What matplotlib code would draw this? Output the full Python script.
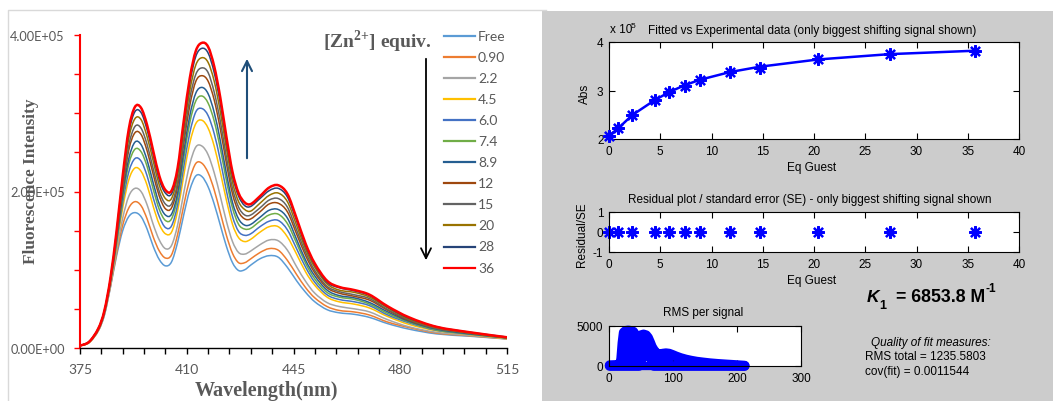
import numpy as np
import matplotlib
matplotlib.use('Agg')
import matplotlib.pyplot as plt
from matplotlib.lines import Line2D
from matplotlib.patches import Rectangle, PathPatch
from matplotlib.path import Path
from matplotlib.ticker import MultipleLocator, FixedLocator, FuncFormatter

W, H = 1053, 402

# ---------------- fluorescence titration spectra (units of 1e5) ----------------
wavelength = [375, 378, 381, 383, 385, 387, 389, 391, 393, 395, 397, 399, 401, 403, 405,
              407, 409, 411, 413, 415, 417, 419, 421, 423, 425, 427, 429, 431, 434, 437,
              440, 443, 446, 449, 452, 456, 460, 465, 470, 476, 483, 492, 503, 515]

s_free = [.03, .07, .22, .42, .78, 1.18, 1.50, 1.68, 1.73, 1.68,
          1.52, 1.30, 1.13, 1.05, 1.10, 1.35, 1.70, 2.02, 2.20, 2.19,
          2.06, 1.84, 1.57, 1.30, 1.09, 0.99, 1.00, 1.06, 1.14, 1.18,
          1.16, 1.03, 0.86, 0.71, 0.59, 0.49, 0.45, 0.43, 0.39, 0.31,
          0.24, 0.18, 0.15, 0.115]
s_090 = [.03, .07, .22, .43, .79, 1.21, 1.57, 1.79, 1.87, 1.82,
         1.65, 1.42, 1.24, 1.15, 1.19, 1.45, 1.82, 2.16, 2.36, 2.36,
         2.24, 2.02, 1.73, 1.44, 1.21, 1.09, 1.09, 1.14, 1.22, 1.27,
         1.25, 1.12, 0.94, 0.77, 0.64, 0.53, 0.48, 0.46, 0.42, 0.33,
         0.26, 0.19, 0.155, 0.117]
s_22 = [.03, .07, .23, .43, .81, 1.25, 1.66, 1.94, 2.04, 2.00,
        1.83, 1.58, 1.38, 1.27, 1.31, 1.57, 1.98, 2.35, 2.57, 2.58,
        2.47, 2.24, 1.94, 1.62, 1.36, 1.22, 1.20, 1.24, 1.32, 1.38,
        1.37, 1.25, 1.04, 0.85, 0.70, 0.58, 0.53, 0.50, 0.46, 0.36,
        0.27, 0.20, 0.16, 0.12]
s_45 = [.03, .07, .23, .45, .83, 1.31, 1.79, 2.15, 2.30, 2.26,
        2.08, 1.81, 1.58, 1.46, 1.48, 1.75, 2.20, 2.62, 2.87, 2.91,
        2.81, 2.58, 2.25, 1.89, 1.58, 1.41, 1.36, 1.39, 1.48, 1.55,
        1.55, 1.42, 1.20, 0.97, 0.80, 0.65, 0.59, 0.56, 0.51, 0.40,
        0.30, 0.22, 0.17, 0.12]
s_60 = [.03, .075, .235, .45, .84, 1.34, 1.86, 2.25, 2.42, 2.39,
        2.20, 1.92, 1.68, 1.54, 1.56, 1.83, 2.31, 2.75, 3.02, 3.06,
        2.97, 2.74, 2.40, 2.01, 1.68, 1.49, 1.44, 1.46, 1.55, 1.62,
        1.63, 1.51, 1.27, 1.03, 0.84, 0.68, 0.62, 0.59, 0.54, 0.42,
        0.32, 0.225, 0.175, 0.126]
s_74 = [.03, .08, .24, .46, .85, 1.37, 1.92, 2.35, 2.54, 2.51,
        2.32, 2.03, 1.77, 1.63, 1.65, 1.92, 2.42, 2.88, 3.16, 3.22,
        3.13, 2.90, 2.55, 2.14, 1.79, 1.58, 1.52, 1.53, 1.62, 1.70,
        1.71, 1.59, 1.34, 1.08, 0.88, 0.71, 0.65, 0.62, 0.56, 0.44,
        0.33, 0.23, 0.18, 0.13]
s_89 = [.03, .08, .24, .46, .86, 1.39, 1.97, 2.42, 2.63, 2.60,
        2.40, 2.11, 1.84, 1.70, 1.71, 1.98, 2.50, 2.97, 3.26, 3.33,
        3.25, 3.01, 2.65, 2.23, 1.86, 1.65, 1.57, 1.58, 1.67, 1.76,
        1.77, 1.66, 1.39, 1.12, 0.92, 0.74, 0.67, 0.64, 0.58, 0.46,
        0.34, 0.24, 0.18, 0.13]
s_12 = [.03, .08, .24, .47, .87, 1.42, 2.03, 2.53, 2.75, 2.73,
        2.52, 2.22, 1.94, 1.78, 1.79, 2.07, 2.61, 3.10, 3.41, 3.48,
        3.41, 3.17, 2.80, 2.36, 1.97, 1.74, 1.65, 1.65, 1.74, 1.84,
        1.85, 1.74, 1.46, 1.18, 0.96, 0.77, 0.70, 0.66, 0.61, 0.48,
        0.35, 0.25, 0.19, 0.13]
s_15 = [.03, .08, .24, .47, .88, 1.44, 2.07, 2.59, 2.83, 2.81,
        2.60, 2.29, 2.00, 1.84, 1.84, 2.12, 2.68, 3.19, 3.50, 3.58,
        3.52, 3.27, 2.90, 2.44, 2.04, 1.80, 1.70, 1.70, 1.79, 1.89,
        1.91, 1.80, 1.51, 1.22, 0.99, 0.79, 0.72, 0.68, 0.63, 0.49,
        0.36, 0.25, 0.19, 0.13]
s_20 = [.03, .08, .25, .47, .89, 1.46, 2.12, 2.68, 2.93, 2.92,
        2.70, 2.39, 2.08, 1.91, 1.91, 2.20, 2.77, 3.29, 3.62, 3.71,
        3.65, 3.41, 3.02, 2.55, 2.12, 1.87, 1.77, 1.75, 1.85, 1.95,
        1.98, 1.87, 1.57, 1.26, 1.03, 0.82, 0.74, 0.71, 0.65, 0.51,
        0.37, 0.26, 0.19, 0.13]
s_28 = [.03, .08, .25, .48, .89, 1.49, 2.17, 2.75, 3.02, 3.01,
        2.79, 2.47, 2.15, 1.98, 1.97, 2.26, 2.85, 3.39, 3.73, 3.83,
        3.77, 3.52, 3.13, 2.64, 2.20, 1.94, 1.82, 1.81, 1.91, 2.01,
        2.04, 1.93, 1.63, 1.30, 1.06, 0.84, 0.77, 0.73, 0.67, 0.52,
        0.38, 0.27, 0.20, 0.14]
s_36 = [.03, .08, .25, .48, .90, 1.50, 2.20, 2.80, 3.08, 3.07,
        2.85, 2.52, 2.20, 2.02, 2.01, 2.30, 2.90, 3.45, 3.80, 3.90,
        3.85, 3.60, 3.20, 2.70, 2.25, 1.98, 1.86, 1.84, 1.94, 2.05,
        2.08, 1.97, 1.66, 1.33, 1.08, 0.86, 0.78, 0.74, 0.68, 0.53,
        0.39, 0.27, 0.20, 0.137]

spectra = [s_free, s_090, s_22, s_45, s_60, s_74, s_89, s_12, s_15, s_20, s_28, s_36]
labels = ['Free', '0.90', '2.2', '4.5', '6.0', '7.4', '8.9', '12', '15', '20', '28', '36']
colors = ['#5B9BD5', '#ED7D31', '#A5A5A5', '#FFC000', '#4472C4', '#70AD47',
          '#255E91', '#9E480E', '#636363', '#997300', '#264478', '#FF0000']

# ---------------- binding isotherm fit ----------------
eq_guest = [0, 0.9, 2.25, 4.45, 5.9, 7.4, 8.85, 11.8, 14.7, 20.4, 27.4, 35.7]
abs_exp = [2.07, 2.23, 2.50, 2.81, 2.97, 3.10, 3.22, 3.38, 3.47, 3.64, 3.75, 3.81]
abs_fit = [2.07, 2.22, 2.49, 2.80, 2.97, 3.11, 3.22, 3.38, 3.49, 3.64, 3.75, 3.82]
resid_se = [0, 0, 0, 0, 0, 0, 0, 0, 0, 0, 0, 0]

# RMS per signal, drawn as a thick band (centre of upper edge / lower edge)
rms_idx = [1, 17, 19, 21, 23, 26, 30, 34, 38, 41, 44, 47, 50, 54, 58, 61, 64, 67,
           70, 74, 79, 84, 89, 94, 99, 105, 112, 120, 128, 137, 147, 158, 170, 183, 197, 212]
rms_top = [100, 150, 900, 2900, 4200, 4400, 4450, 4400, 4300, 3900, 3400, 3600,
           3850, 3950, 3850, 3550, 3000, 2400, 2000, 1600, 1450, 1550, 1600, 1550,
           1400, 1200, 1000, 820, 680, 550, 450, 350, 270, 200, 130, 50]
rms_bot = [0, 0, 0, 0, 0, 0, 0, 0, 0, 0, 0, 0, 600, 1500, 1800, 1700, 1200, 600,
           0, 0, 0, 0, 0, 0, 0, 0, 0, 0, 0, 0, 0, 0, 0, 0, 0, 0]


def fx(x):
    return x / W


def fy(y):
    return 1 - y / H


def box(x0, y0, x1, y1):
    return [fx(x0), fy(y1), (x1 - x0) / W, (y1 - y0) / H]


def smooth_path(x, y):
    # Excel-style smoothed line: Bezier segments passing through every point
    pts = np.column_stack([x, y]).astype(float)
    n = len(pts)
    verts = [pts[0]]
    codes = [Path.MOVETO]
    for i in range(n - 1):
        p0 = pts[max(i - 1, 0)]
        p1 = pts[i]
        p2 = pts[i + 1]
        p3 = pts[min(i + 2, n - 1)]
        verts += [p1 + (p2 - p0) / 6, p2 - (p3 - p1) / 6, p2]
        codes += [Path.CURVE4] * 3
    return Path(verts, codes)


plt.rcParams['axes.unicode_minus'] = False
plt.rcParams['mathtext.fontset'] = 'custom'
plt.rcParams['mathtext.rm'] = 'Liberation Serif:bold'
plt.rcParams['mathtext.bf'] = 'Liberation Serif:bold'

fig = plt.figure(figsize=(W / 100, H / 100), dpi=100)
fig.add_artist(Rectangle((fx(542), 0), 1 - fx(542), fy(12), transform=fig.transFigure,
                         facecolor='#cccccc', edgecolor='none', zorder=0))
fig.add_artist(Line2D([fx(8), fx(8), fx(546)], [0, fy(11), fy(11)],
                      transform=fig.transFigure, color='#d9d9d9', lw=1))

# ---------------- left: spectra ----------------
grey = '#595959'
ax = fig.add_axes(box(80, 36, 507, 349))
for vals, c, lab in zip(spectra, colors, labels):
    ax.add_patch(PathPatch(smooth_path(wavelength, np.array(vals) * 1e5), fill=False,
                           edgecolor=c, lw=1.8 if lab == '36' else 1.1, zorder=3))
ax.set_xlim(375, 515)
ax.set_ylim(0, 4e5)
ax.spines['top'].set_visible(False)
ax.spines['right'].set_visible(False)
ax.spines['left'].set_color('red')
ax.spines['left'].set_linewidth(1.5)
ax.spines['bottom'].set_linewidth(1.0)
ax.xaxis.set_major_locator(FixedLocator([375, 410, 445, 480, 515]))
ax.xaxis.set_minor_locator(FixedLocator(list(range(375, 516, 7))))
ax.yaxis.set_major_locator(FixedLocator([0, 2e5, 4e5]))
ax.yaxis.set_minor_locator(MultipleLocator(0.5e5))
ax.yaxis.set_major_formatter(FuncFormatter(lambda v, p: f'{v:.2E}'))
ax.tick_params(axis='x', which='both', direction='out', length=4, width=1,
               colors='black', labelcolor=grey, labelsize=10, pad=7)
ax.tick_params(axis='y', which='both', direction='out', length=4, width=1,
               colors='red', labelcolor=grey, labelsize=9.2, pad=7)
for t in ax.get_xticklabels() + ax.get_yticklabels():
    t.set_family('Lato')

fig.text(fx(31), fy(181), 'Fluorescence Intensity', rotation=90, ha='center', va='center',
         family='Liberation Serif', weight='bold', size=12.4, color=grey)
fig.text(fx(266), fy(391), 'Wavelength(nm)', ha='center', va='center',
         family='Liberation Serif', weight='bold', size=14.5, color=grey)
fig.text(fx(377), fy(42), r'[Zn$^{2{+}}$] equiv.', ha='center', va='center',
         family='Liberation Serif', weight='bold', size=14, color=grey)

# legend, drawn by hand to sit where the original does
for i, (c, lab) in enumerate(zip(colors, labels)):
    y = 37 + i * 21.05
    fig.add_artist(Line2D([fx(444), fx(475)], [fy(y), fy(y)], transform=fig.transFigure,
                          color=c, lw=1.6))
    fig.text(fx(478), fy(y), lab, ha='left', va='center', family='Lato',
             size=10, color=grey)

ax.annotate('', xy=(247, H - 57), xytext=(247, H - 162), xycoords='figure pixels',
            arrowprops=dict(arrowstyle='->', color='#1F4E79', lw=1.5, mutation_scale=18))
ax.annotate('', xy=(426, H - 264), xytext=(426, H - 57), xycoords='figure pixels',
            arrowprops=dict(arrowstyle='->', color='black', lw=1.3, mutation_scale=18))

# ---------------- right: fit results (MATLAB style) ----------------
msans = 'Liberation Sans'


def matlab_axes(a):
    a.set_facecolor('white')
    for s in a.spines.values():
        s.set_linewidth(0.8)
    a.tick_params(direction='in', length=4, width=0.8, top=True, right=True,
                  labelsize=8.5, pad=4)
    for t in a.get_xticklabels() + a.get_yticklabels():
        t.set_family(msans)


ax1 = fig.add_axes(box(609, 43, 1019, 140))
ax1.plot(eq_guest, abs_fit, color='blue', lw=1.8, zorder=3)
ax1.plot(eq_guest, abs_exp, ls='none', marker=(8, 2, 0), ms=9, mew=1.6, color='blue',
         zorder=4, clip_on=False)
ax1.set_xlim(0, 40)
ax1.set_ylim(2, 4)
ax1.set_xticks(range(0, 41, 5))
ax1.set_yticks([2, 3, 4])
matlab_axes(ax1)

ax2 = fig.add_axes(box(609, 213, 1019, 253))
ax2.plot(eq_guest, resid_se, ls='none', marker=(8, 2, 0), ms=9, mew=1.6, color='blue',
         clip_on=False)
ax2.set_xlim(0, 40)
ax2.set_ylim(-1, 1)
ax2.set_xticks(range(0, 41, 5))
ax2.set_yticks([-1, 0, 1])
matlab_axes(ax2)

ax3 = fig.add_axes(box(609, 327, 801, 367))
ax3.fill_between(rms_idx, rms_bot, rms_top, color='blue', lw=0, clip_on=False)
ax3.plot(rms_idx, rms_top, color='blue', lw=7, solid_capstyle='round',
         solid_joinstyle='round', clip_on=False)
ax3.plot(rms_idx, rms_bot, color='blue', lw=7, solid_capstyle='round',
         solid_joinstyle='round', clip_on=False)
ax3.plot([rms_idx[0], rms_idx[-1]], [0, 0], color='blue', lw=6, solid_capstyle='round',
         clip_on=False)
ax3.set_xlim(0, 300)
ax3.set_ylim(0, 5000)
ax3.set_xticks([0, 100, 200, 300])
ax3.set_yticks([0, 5000])
matlab_axes(ax3)

tkw = dict(family=msans, size=8.5, color='black')
fig.text(fx(610), fy(30), 'x 10', ha='left', va='center', **tkw)
fig.text(fx(631), fy(26), '5', ha='left', va='center', family=msans, size=6)
fig.text(fx(812), fy(31), 'Fitted vs Experimental data (only biggest shifting signal shown)',
         ha='center', va='center', **tkw)
fig.text(fx(585), fy(94), 'Abs', rotation=90, ha='center', va='center', **tkw)
fig.text(fx(812), fy(168), 'Eq Guest', ha='center', va='center', **tkw)
fig.text(fx(810), fy(200), 'Residual plot / standard error (SE) - only biggest shifting signal shown',
         ha='center', va='center', **tkw)
fig.text(fx(582), fy(235), 'Residual/SE', rotation=90, ha='center', va='center', **tkw)
fig.text(fx(812), fy(281), 'Eq Guest', ha='center', va='center', **tkw)
fig.text(fx(703), fy(313), 'RMS per signal', ha='center', va='center', **tkw)

fig.text(fx(867), fy(297), 'K', ha='left', va='center', family=msans, weight='bold',
         style='italic', size=12.5)
fig.text(fx(879), fy(306), '1', ha='left', va='center', family=msans, weight='bold', size=9)
fig.text(fx(896), fy(297), '= 6853.8 M', ha='left', va='center', family=msans,
         weight='bold', size=12.8)
fig.text(fx(985), fy(289), '-1', ha='left', va='center', family=msans, weight='bold', size=8.5)

fig.text(fx(931), fy(343), 'Quality of fit measures:', ha='center', va='center',
         style='italic', **tkw)
fig.text(fx(865), fy(357), 'RMS total = 1235.5803', ha='left', va='center', **tkw)
fig.text(fx(865), fy(372), 'cov(fit) = 0.0011544', ha='left', va='center', **tkw)

fig.savefig('out.png', dpi=100)
